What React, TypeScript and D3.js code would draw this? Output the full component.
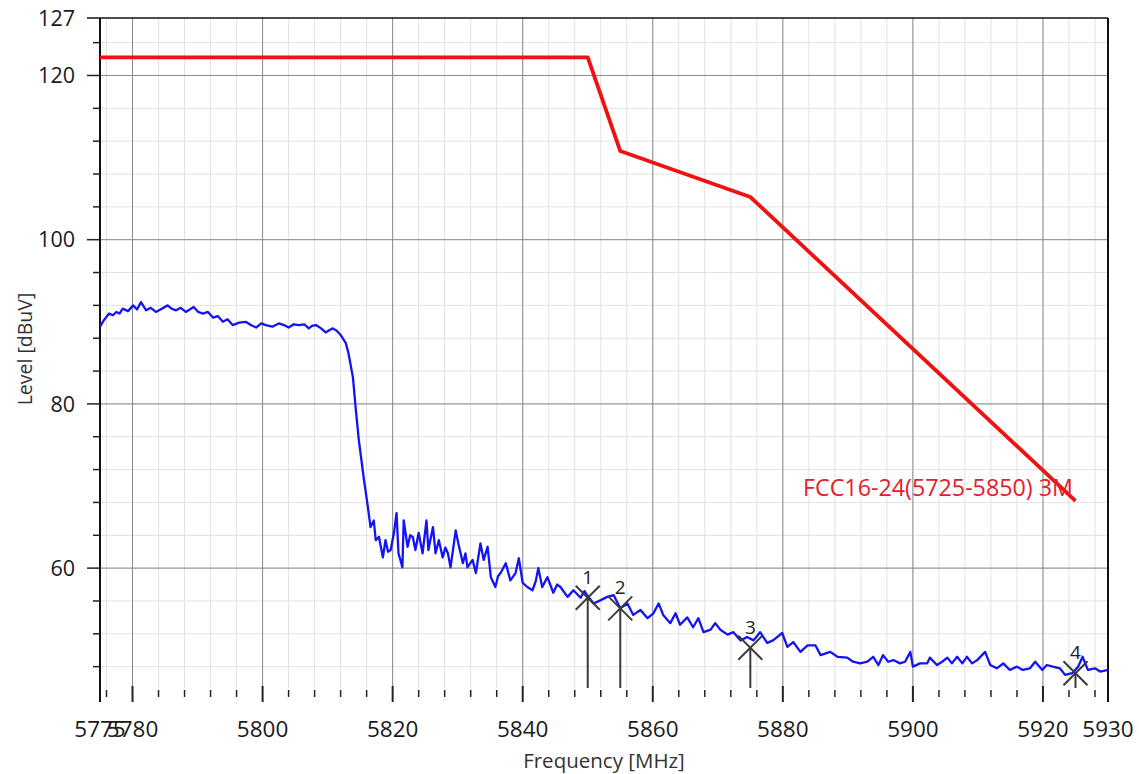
import React, { useEffect, useRef } from "react";
import * as d3 from "d3";

// axis setup
const freqDomain: [number, number] = [5775, 5930];
const levelDomain: [number, number] = [45.4, 127];
const xLabelTicks = [5775, 5780, 5800, 5820, 5840, 5860, 5880, 5900, 5920, 5930];
const xMajorTicks = [5780, 5800, 5820, 5840, 5860, 5880, 5900, 5920];
const yLabelTicks = [60, 80, 100, 120, 127];
const yMajorTicks = [60, 80, 100, 120];

// FCC limit line
const limitFreq = [5775, 5850, 5855, 5875, 5925];
const limitLevel = [122.2, 122.2, 110.8, 105.2, 68.2];
const limitLabel = "FCC16-24(5725-5850) 3M";

// measured trace [MHz, dBuV]
const trace: [number, number][] = [
  [5775.0, 89.4], [5775.6, 90.2], [5776.4, 91.0], [5777.0, 90.8], [5777.5, 91.2], [5778.0, 91.0],
  [5778.5, 91.6], [5779.3, 91.3], [5780.1, 92.0], [5780.7, 91.5], [5781.3, 92.4], [5782.1, 91.4],
  [5782.8, 91.7], [5783.6, 91.2], [5784.5, 91.6], [5785.4, 92.0], [5786.0, 91.6], [5786.7, 91.4],
  [5787.4, 91.7], [5788.2, 91.2], [5788.8, 91.5], [5789.4, 91.8], [5790.1, 91.2], [5790.8, 91.0],
  [5791.6, 91.2], [5792.4, 90.5], [5793.1, 90.7], [5793.9, 90.0], [5794.6, 90.3], [5795.4, 89.6],
  [5796.4, 89.9], [5797.4, 90.0], [5798.2, 89.6], [5799.0, 89.3], [5799.8, 89.8], [5800.5, 89.6],
  [5801.5, 89.4], [5802.5, 89.8], [5803.3, 89.6], [5804.0, 89.3], [5804.8, 89.7], [5805.6, 89.6],
  [5806.4, 89.7], [5807.1, 89.2], [5807.6, 89.5], [5808.2, 89.6], [5809.0, 89.2], [5809.7, 88.7],
  [5810.3, 89.0], [5810.8, 89.2], [5811.4, 88.9], [5812.0, 88.4], [5812.8, 87.4], [5813.2, 86.2],
  [5813.9, 83.2], [5814.3, 79.6], [5814.8, 75.6], [5815.6, 70.7], [5816.2, 67.4], [5816.6, 65.0],
  [5817.1, 65.8], [5817.4, 63.4], [5817.9, 63.8], [5818.5, 61.3], [5818.9, 63.4], [5819.3, 62.0],
  [5819.7, 62.2], [5820.2, 64.3], [5820.6, 66.7], [5820.9, 61.8], [5821.5, 60.1], [5821.7, 65.8],
  [5822.3, 62.6], [5822.7, 64.0], [5823.1, 63.8], [5823.5, 62.2], [5824.0, 64.3], [5824.6, 61.8],
  [5825.2, 65.8], [5825.5, 62.2], [5826.2, 65.0], [5826.6, 61.8], [5827.1, 63.4], [5827.7, 61.3],
  [5828.1, 62.5], [5828.5, 61.8], [5828.9, 60.1], [5829.7, 64.6], [5830.1, 63.0], [5830.8, 60.6],
  [5831.2, 61.8], [5831.5, 60.1], [5832.3, 61.0], [5832.8, 59.4], [5833.5, 63.0], [5834.0, 61.0],
  [5834.6, 62.6], [5835.1, 58.9], [5835.8, 57.7], [5836.2, 59.0], [5836.6, 59.4], [5837.4, 60.6],
  [5838.1, 58.5], [5838.9, 59.4], [5839.4, 61.2], [5840.0, 58.2], [5840.7, 57.7], [5841.5, 57.3],
  [5842.0, 58.4], [5842.4, 60.0], [5843.0, 57.7], [5843.8, 58.9], [5844.7, 57.0], [5845.3, 58.0],
  [5845.8, 57.7], [5846.9, 56.5], [5847.8, 57.3], [5848.9, 56.4], [5849.5, 57.2], [5850.0, 56.6],
  [5850.9, 55.7], [5852.0, 56.1], [5853.0, 56.5], [5854.0, 56.7], [5855.0, 55.1], [5856.1, 55.7],
  [5857.0, 54.3], [5858.1, 54.9], [5859.2, 53.9], [5860.1, 54.5], [5860.9, 55.7], [5861.6, 54.3],
  [5862.7, 53.3], [5863.5, 54.5], [5864.2, 53.1], [5865.3, 54.0], [5866.2, 52.8], [5867.0, 53.9],
  [5867.8, 52.2], [5868.9, 52.5], [5869.6, 53.3], [5870.4, 52.5], [5871.5, 51.9], [5872.4, 52.2],
  [5873.5, 51.2], [5874.5, 51.6], [5875.5, 51.2], [5876.5, 52.2], [5877.6, 50.9], [5878.5, 51.2],
  [5879.9, 52.1], [5880.7, 50.4], [5881.6, 51.0], [5882.7, 49.8], [5883.8, 50.6], [5885.0, 50.6],
  [5885.8, 49.4], [5887.3, 49.8], [5888.4, 49.2], [5889.9, 49.1], [5890.8, 48.6], [5891.9, 48.4],
  [5893.0, 48.6], [5893.9, 49.2], [5894.7, 48.2], [5895.4, 49.4], [5896.2, 48.6], [5897.0, 48.8],
  [5898.0, 48.4], [5898.8, 48.6], [5899.6, 49.8], [5900.0, 48.0], [5901.1, 48.4], [5902.2, 48.4],
  [5902.6, 49.1], [5903.7, 48.2], [5904.5, 48.6], [5905.3, 49.1], [5906.0, 48.4], [5906.8, 49.2],
  [5907.6, 48.4], [5908.3, 49.2], [5909.1, 48.4], [5909.9, 48.8], [5911.1, 49.8], [5911.9, 48.2],
  [5912.9, 47.8], [5913.9, 48.4], [5914.9, 47.6], [5916.0, 48.0], [5916.9, 47.6], [5918.0, 47.8],
  [5918.8, 48.6], [5919.9, 47.6], [5920.6, 48.2], [5921.5, 48.0], [5922.6, 47.8], [5923.4, 47.0],
  [5924.5, 47.2], [5925.4, 48.0], [5926.1, 49.2], [5926.9, 47.6], [5928.0, 47.8], [5928.8, 47.4],
  [5930.0, 47.6],
];

// markers
const markerNames = ["1", "2", "3", "4"];
const markerFreq = [5850, 5855, 5875, 5925];
const markerLevel = [56.4, 55.1, 50.3, 47.2];

const W = 1139;
const H = 774;
const FONT = "'Open Sans', 'DejaVu Sans', sans-serif";

const App: React.FC = () => {
  const ref = useRef<SVGSVGElement | null>(null);

  useEffect(() => {
    if (!ref.current) return;
    const svg = d3.select(ref.current);
    svg.selectAll("*").remove();

    const left = 100, right = 1108, top = 18, bottom = 688;
    const x = d3.scaleLinear().domain(freqDomain).range([left, right]);
    const y = d3.scaleLinear().domain(levelDomain).range([bottom, top]);

    svg.append("rect").attr("width", W).attr("height", H).attr("fill", "#fff");

    // minor grid
    const minorX = d3.range(5776, 5930, 4);
    const minorY = d3.range(48, 127, 4);
    const grid = svg.append("g");
    minorX.forEach(f => {
      grid.append("line")
        .attr("x1", x(f)).attr("x2", x(f)).attr("y1", top).attr("y2", bottom)
        .attr("stroke", "#e2e2e2").attr("stroke-width", 1);
    });
    minorY.forEach(v => {
      grid.append("line")
        .attr("x1", left).attr("x2", right).attr("y1", y(v)).attr("y2", y(v))
        .attr("stroke", "#e2e2e2").attr("stroke-width", 1);
    });
    // major grid
    xMajorTicks.forEach(f => {
      grid.append("line")
        .attr("x1", x(f)).attr("x2", x(f)).attr("y1", top).attr("y2", bottom)
        .attr("stroke", "#8a8a8a").attr("stroke-width", 1);
    });
    yMajorTicks.forEach(v => {
      grid.append("line")
        .attr("x1", left).attr("x2", right).attr("y1", y(v)).attr("y2", y(v))
        .attr("stroke", "#8a8a8a").attr("stroke-width", 1);
    });

    // frame
    svg.append("line").attr("x1", 87).attr("x2", right).attr("y1", top).attr("y2", top)
      .attr("stroke", "#111").attr("stroke-width", 1.5);
    svg.append("line").attr("x1", left).attr("x2", left).attr("y1", top).attr("y2", 702)
      .attr("stroke", "#111").attr("stroke-width", 2);
    svg.append("line").attr("x1", right).attr("x2", right).attr("y1", top).attr("y2", 702)
      .attr("stroke", "#111").attr("stroke-width", 2);

    // ticks
    minorX.forEach(f => {
      const major = xMajorTicks.includes(f);
      svg.append("line")
        .attr("x1", x(f)).attr("x2", x(f)).attr("y1", major ? 686 : 690).attr("y2", major ? 702 : 697)
        .attr("stroke", "#222").attr("stroke-width", major ? 2 : 1.5);
    });
    minorY.forEach(v => {
      const major = yMajorTicks.includes(v);
      svg.append("line")
        .attr("x1", major ? 87 : 93).attr("x2", left).attr("y1", y(v)).attr("y2", y(v))
        .attr("stroke", "#222").attr("stroke-width", 1.5);
    });

    // tick labels
    xLabelTicks.forEach(f => {
      svg.append("text")
        .attr("x", x(f)).attr("y", 737)
        .attr("text-anchor", "middle")
        .attr("font-family", FONT).attr("font-size", 22.5)
        .attr("fill", "#1a1a1a")
        .text(f);
    });
    yLabelTicks.forEach(v => {
      svg.append("text")
        .attr("x", 75).attr("y", y(v)).attr("dy", "0.36em")
        .attr("text-anchor", "end")
        .attr("font-family", FONT).attr("font-size", 21.5)
        .attr("fill", "#1a1a1a")
        .text(v);
    });

    // axis titles
    svg.append("text")
      .attr("x", (left + right) / 2).attr("y", 768)
      .attr("text-anchor", "middle")
      .attr("font-family", FONT).attr("font-size", 20.5)
      .attr("fill", "#333")
      .text("Frequency [MHz]");
    svg.append("text")
      .attr("transform", `translate(32,349) rotate(-90)`)
      .attr("text-anchor", "middle")
      .attr("font-family", FONT).attr("font-size", 19.5)
      .attr("fill", "#333")
      .text("Level [dBuV]");

    const plot = svg.append("g");

    // limit line
    const limitLine = d3.line<number>()
      .x((_, i) => x(limitFreq[i]))
      .y((_, i) => y(limitLevel[i]));
    plot.append("path")
      .attr("d", limitLine(limitLevel) || "")
      .attr("fill", "none")
      .attr("stroke", "#f01212")
      .attr("stroke-width", 3.8)
      .attr("stroke-linejoin", "round");

    // trace
    const traceLine = d3.line<[number, number]>()
      .x(d => x(d[0]))
      .y(d => y(d[1]));
    plot.append("path")
      .attr("d", traceLine(trace) || "")
      .attr("fill", "none")
      .attr("stroke", "#1414f2")
      .attr("stroke-width", 2.3)
      .attr("stroke-linejoin", "round");

    // limit label
    plot.append("text")
      .attr("x", 803).attr("y", 496)
      .attr("font-family", FONT).attr("font-size", 23)
      .attr("textLength", 270)
      .attr("lengthAdjust", "spacingAndGlyphs")
      .attr("fill", "#e3202c")
      .text(limitLabel);

    // markers
    markerFreq.forEach((f, i) => {
      const mx = x(f);
      const my = y(markerLevel[i]);
      const mg = plot.append("g").attr("stroke", "#3a3a3a").attr("stroke-width", 2);
      mg.append("line").attr("x1", mx).attr("x2", mx).attr("y1", my).attr("y2", bottom);
      mg.append("line").attr("x1", mx - 12).attr("x2", mx + 12).attr("y1", my + 12).attr("y2", my - 12);
      mg.append("line").attr("x1", mx - 12).attr("x2", mx + 12).attr("y1", my - 12).attr("y2", my + 12);
      plot.append("text")
        .attr("x", mx).attr("y", my - 14)
        .attr("text-anchor", "middle")
        .attr("font-family", FONT).attr("font-size", 19)
        .attr("fill", "#222")
        .text(markerNames[i]);
    });
  }, []);

  return (
    <svg
      ref={ref}
      width={W}
      height={H}
      style={{ position: "absolute", left: 0, top: 0, display: "block" }}
    />
  );
};

export default App;
